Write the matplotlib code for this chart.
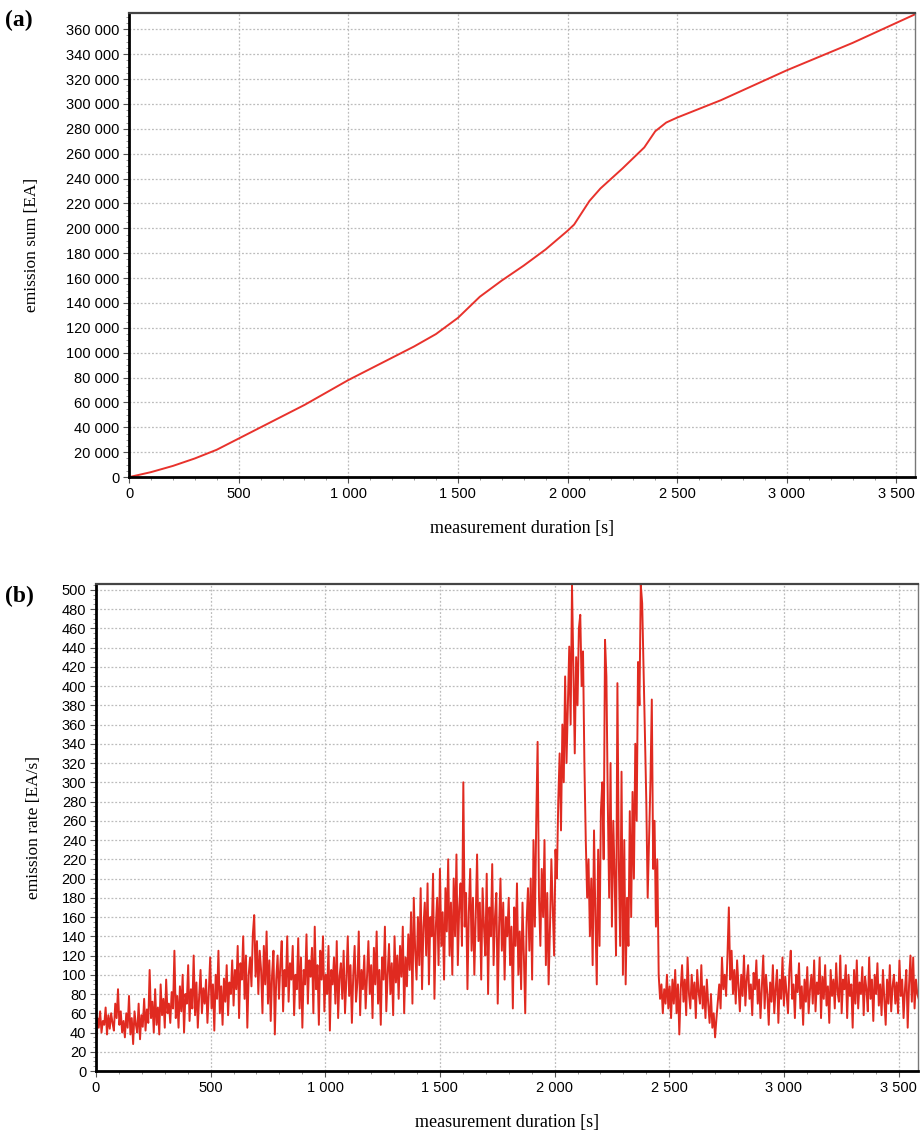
import matplotlib
matplotlib.use("Agg")
import matplotlib.pyplot as plt
import numpy as np
from matplotlib.ticker import FuncFormatter, MultipleLocator

# (a) cumulative emission sum
sum_t = [0, 100, 200, 300, 400, 500, 600, 700, 800, 900, 1000, 1100, 1200, 1300,
         1400, 1500, 1600, 1700, 1800, 1900, 2000, 2030, 2100, 2150, 2250, 2350,
         2400, 2450, 2500, 2700, 3000, 3300, 3585]
sum_v = [0, 4000, 9000, 15000, 22000, 31000, 40000, 49000, 58000, 68000, 78000,
         87000, 96000, 105000, 115000, 128000, 145000, 158000, 170000, 183000,
         198000, 203000, 222000, 232000, 248000, 265000, 278000, 285000, 289000,
         303000, 327000, 349000, 372000]

# (b) emission rate, one value every 6 s
rate_step = 6
rate = [
    30, 55, 45, 62, 40, 52, 48, 66, 38, 58, 44, 60, 50, 42, 70, 55, 85, 48, 62, 40,
    52, 35, 60, 45, 78, 38, 55, 28, 62, 48, 40, 70, 33, 58, 46, 75, 42, 64, 50, 105,
    55, 72, 40, 85, 48, 66, 38, 90, 58, 75, 45, 95, 60, 70, 50, 82, 65, 125, 55, 78,
    45, 88, 62, 100, 40, 80, 70, 110, 52, 85, 65, 120, 58, 92, 45, 78, 105, 60, 86, 70,
    95, 50, 82, 118, 65, 90, 42, 100, 75, 125, 60, 88, 48, 96, 72, 110, 58, 92, 80, 115,
    68, 105, 85, 130, 55, 112, 95, 140, 75, 120, 45, 100, 118, 88, 142, 162, 98, 135, 80, 125,
    105, 60, 130, 90, 145, 70, 115, 52, 100, 125, 38, 95, 120, 75, 110, 135, 62, 105, 88, 140,
    72, 112, 95, 130, 58, 100, 85, 138, 65, 118, 45, 105, 90, 142, 70, 115, 98, 128, 60, 150,
    85, 110, 48, 125, 95, 140, 62, 100, 80, 130, 42, 105, 90, 118, 70, 135, 55, 98, 112, 75,
    125, 60, 95, 140, 78, 110, 50, 100, 130, 72, 92, 145, 58, 105, 85, 120, 65, 98, 135, 80,
    110, 55, 128, 90, 145, 70, 105, 48, 118, 95, 150, 62, 100, 132, 80, 112, 58, 140, 92, 120,
    75, 130, 98, 150, 60, 118, 88, 142, 105, 165, 70, 180, 125, 95, 160, 110, 190, 85, 150, 175,
    120, 195, 90, 160, 140, 205, 75, 150, 180, 110, 210, 130, 165, 95, 190, 145, 220, 120, 175, 100,
    200, 140, 225, 110, 170, 195, 130, 300, 150, 185, 85, 165, 210, 125, 180, 100, 160, 225, 135, 175,
    95, 190, 150, 120, 205, 80, 170, 140, 215, 110, 160, 185, 70, 150, 200, 125, 175, 95, 160, 140,
    180, 110, 150, 65, 170, 130, 195, 100, 145, 85, 175, 120, 60, 155, 190, 125, 200, 95, 240, 150,
    260, 342, 180, 130, 210, 160, 240, 110, 185, 90, 150, 220, 170, 120, 230, 200, 280, 330, 250, 360,
    300, 410, 320, 380, 441, 360, 505, 420, 330, 430, 380, 460, 474, 400, 436, 320, 240, 180, 220, 140,
    200, 110, 250, 160, 90, 230, 130, 270, 300, 220, 448, 410, 280, 180, 320, 150, 260, 200, 120, 403,
    220, 130, 311, 100, 240, 90, 180, 130, 270, 160, 290, 200, 340, 260, 425, 380, 505, 486, 420, 350,
    280, 180, 240, 300, 386, 210, 260, 150, 220, 100, 75, 90, 60, 85, 70, 100, 65, 88, 55, 95,
    70, 105, 60, 90, 38, 85, 110, 72, 95, 58, 118, 80, 65, 100, 75, 92, 55, 105, 82, 70,
    110, 65, 88, 55, 95, 70, 50, 80, 45, 60, 35, 55, 72, 90, 65, 118, 85, 100, 78, 120,
    170, 95, 125, 80, 105, 70, 115, 88, 62, 100, 78, 120, 68, 95, 110, 75, 90, 58, 102, 85,
    115, 70, 95, 55, 88, 120, 65, 100, 80, 48, 92, 72, 110, 60, 85, 105, 50, 95, 75, 118,
    68, 98, 80, 60, 105, 125, 75, 90, 55, 100, 82, 112, 65, 88, 48, 95, 72, 108, 60, 85,
    100, 70, 115, 62, 92, 80, 118, 55, 98, 75, 110, 68, 88, 50, 105, 78, 95, 65, 112, 82,
    72, 120, 60, 95, 85, 110, 55, 100, 78, 90, 45, 105, 70, 115, 65, 92, 80, 108, 58, 98,
    85, 62, 118, 75, 95, 52, 100, 80, 112, 68, 90, 58, 105, 75, 48, 95, 70, 110, 62, 88,
    100, 70, 92, 60, 115, 78, 95, 55, 85, 105, 45, 90, 120, 72, 118, 65, 95, 80, 75, 70,
]
rate_t = np.arange(len(rate)) * rate_step

x_max = 3585
sans = ['Liberation Sans', 'DejaVu Sans']
serif = ['Liberation Serif', 'DejaVu Serif']


def spaced(v, pos):
    return f"{int(round(v)):,}".replace(",", " ")


def styleAx(ax, ymax, ymajor, yminor, lsize):
    ax.set_xlim(0, x_max)
    ax.set_ylim(0, ymax)
    ax.xaxis.set_major_locator(MultipleLocator(500))
    ax.xaxis.set_minor_locator(MultipleLocator(100))
    ax.yaxis.set_major_locator(MultipleLocator(ymajor))
    ax.yaxis.set_minor_locator(MultipleLocator(yminor))
    ax.xaxis.set_major_formatter(FuncFormatter(spaced))
    ax.yaxis.set_major_formatter(FuncFormatter(spaced))
    ax.grid(True, which='major', color='#bcbcbc', linestyle=(0, (1.5, 1.5)), linewidth=0.9)
    ax.set_axisbelow(True)
    ax.tick_params(which='major', direction='out', length=4, width=0.8, color='#555555',
                   labelsize=lsize, pad=3)
    ax.tick_params(which='minor', direction='out', length=2, width=0.6, color='#888888')
    for lab in ax.get_xticklabels() + ax.get_yticklabels():
        lab.set_family(sans)
    ax.spines['left'].set_linewidth(2.0)
    ax.spines['bottom'].set_linewidth(2.0)
    ax.spines['top'].set_linewidth(1.6)
    ax.spines['top'].set_color('#444444')
    ax.spines['right'].set_linewidth(1.0)
    ax.spines['right'].set_color('#777777')


fig = plt.figure(figsize=(9.23, 11.36), dpi=100)

ax1 = fig.add_axes([0.1398, 0.580, 0.8516, 0.4085])
ax1.plot(sum_t, sum_v, color='#e8322c', linewidth=1.4)
styleAx(ax1, 373000, 20000, 5000, 10.5)
ax1.set_ylabel('emission sum [EA]', family=serif, fontsize=12.5)
ax1.yaxis.set_label_coords(-0.113, 0.5)
ax1.set_xlabel('measurement duration [s]', family=serif, fontsize=13, labelpad=14)
fig.text(0.005, 0.977, '(a)', family=serif, fontsize=17, fontweight='bold')

ax2 = fig.add_axes([0.104, 0.0572, 0.8906, 0.4287])
ax2.plot(rate_t, rate, color='#e02a20', linewidth=1.4)
styleAx(ax2, 506, 20, 5, 10.5)
ax2.set_ylabel('emission rate [EA/s]', family=serif, fontsize=12.5)
ax2.yaxis.set_label_coords(-0.066, 0.5)
ax2.set_xlabel('measurement duration [s]', family=serif, fontsize=13, labelpad=14)
fig.text(0.005, 0.470, '(b)', family=serif, fontsize=17, fontweight='bold')

fig.savefig("out.png", dpi=100)
